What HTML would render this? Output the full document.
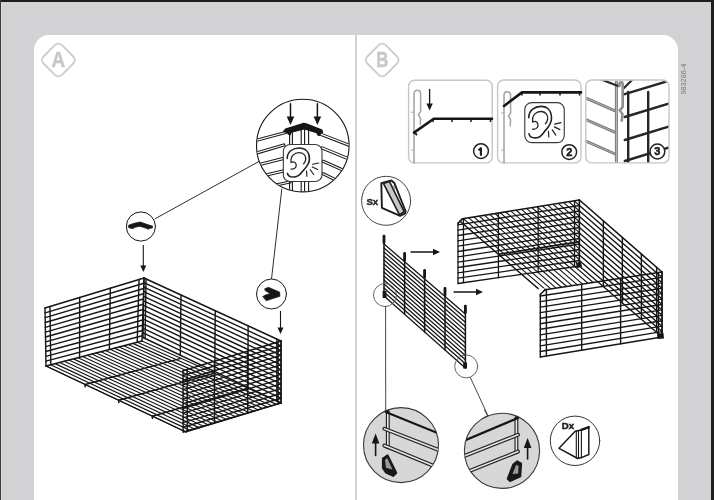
<!DOCTYPE html>
<html><head><meta charset="utf-8"><style>
html,body{margin:0;padding:0;}
body{width:714px;height:500px;position:relative;overflow:hidden;background:#d2d2d4;font-family:"Liberation Sans",sans-serif;}
.bt{position:absolute;left:0;top:0;width:714px;height:1.7px;background:#1e1e1e;}
.bl{position:absolute;left:0;top:0;width:1px;height:500px;background:#3a3a3a;}
.bl2{position:absolute;left:1px;top:2px;width:1px;height:498px;background:#dcdcdc;}
.br{position:absolute;right:0;top:0;width:3px;height:500px;background:#1e1e1e;}
.panel{position:absolute;left:33.6px;top:35.4px;width:644.6px;height:480px;background:#fff;border-radius:15px 15px 0 0;}
.div{position:absolute;left:354.6px;top:35px;width:2px;height:465px;background:#d2d2d2;}
svg{position:absolute;left:0;top:0;filter:grayscale(1) blur(0.35px);}
text{opacity:0.995;}
</style></head><body>
<div class="bt"></div><div class="bl"></div><div class="bl2"></div><div class="br"></div>
<div class="panel"></div>
<div class="div"></div>
<svg width="714" height="500" viewBox="0 0 714 500" stroke-linecap="round">
<defs><clipPath id="cA"><circle cx="302.8" cy="145.6" r="46"/></clipPath>
<clipPath id="cR"><polygon points="458,219.5 579.4,200 579.4,266 597.3,282.6 540.3,290.5"/></clipPath>
<clipPath id="cB3"><rect x="586.5" y="80.8" width="81.8" height="81.4" rx="5.5"/></clipPath>
<clipPath id="cC1"><circle cx="401" cy="445.1" r="37.5"/></clipPath>
<clipPath id="cC2"><circle cx="502" cy="450.8" r="37.6"/></clipPath></defs>
<line x1="46" y1="366" x2="186" y2="432" stroke="#161616" stroke-width="1.15"/>
<line x1="50.57" y1="364.81" x2="190.52" y2="430.62" stroke="#161616" stroke-width="1.15"/>
<line x1="55.14" y1="363.62" x2="195.05" y2="429.24" stroke="#161616" stroke-width="1.15"/>
<line x1="59.71" y1="362.43" x2="199.57" y2="427.86" stroke="#161616" stroke-width="1.15"/>
<line x1="64.29" y1="361.24" x2="204.1" y2="426.48" stroke="#161616" stroke-width="1.15"/>
<line x1="68.86" y1="360.05" x2="208.62" y2="425.1" stroke="#161616" stroke-width="1.15"/>
<line x1="73.43" y1="358.86" x2="213.14" y2="423.71" stroke="#161616" stroke-width="1.15"/>
<line x1="78" y1="357.67" x2="217.67" y2="422.33" stroke="#161616" stroke-width="1.15"/>
<line x1="82.57" y1="356.48" x2="222.19" y2="420.95" stroke="#161616" stroke-width="1.15"/>
<line x1="87.14" y1="355.29" x2="226.71" y2="419.57" stroke="#161616" stroke-width="1.15"/>
<line x1="91.71" y1="354.1" x2="231.24" y2="418.19" stroke="#161616" stroke-width="1.15"/>
<line x1="96.29" y1="352.9" x2="235.76" y2="416.81" stroke="#161616" stroke-width="1.15"/>
<line x1="100.86" y1="351.71" x2="240.29" y2="415.43" stroke="#161616" stroke-width="1.15"/>
<line x1="105.43" y1="350.52" x2="244.81" y2="414.05" stroke="#161616" stroke-width="1.15"/>
<line x1="110" y1="349.33" x2="249.33" y2="412.67" stroke="#161616" stroke-width="1.15"/>
<line x1="114.57" y1="348.14" x2="253.86" y2="411.29" stroke="#161616" stroke-width="1.15"/>
<line x1="119.14" y1="346.95" x2="258.38" y2="409.9" stroke="#161616" stroke-width="1.15"/>
<line x1="123.71" y1="345.76" x2="262.9" y2="408.52" stroke="#161616" stroke-width="1.15"/>
<line x1="128.29" y1="344.57" x2="267.43" y2="407.14" stroke="#161616" stroke-width="1.15"/>
<line x1="132.86" y1="343.38" x2="271.95" y2="405.76" stroke="#161616" stroke-width="1.15"/>
<line x1="137.43" y1="342.19" x2="276.48" y2="404.38" stroke="#161616" stroke-width="1.15"/>
<line x1="142" y1="341" x2="281" y2="403" stroke="#161616" stroke-width="1.15"/>
<line x1="46" y1="366" x2="186" y2="432" stroke="#161616" stroke-width="1.3"/>
<line x1="186" y1="432" x2="281" y2="403" stroke="#161616" stroke-width="1.3"/>
<line x1="85.2" y1="384.48" x2="180.92" y2="358.36" stroke="#161616" stroke-width="1.5"/>
<line x1="85.2" y1="384.48" x2="85.2" y2="386.68" stroke="#161616" stroke-width="1.6"/>
<line x1="118.8" y1="400.32" x2="214.28" y2="373.24" stroke="#161616" stroke-width="1.5"/>
<line x1="118.8" y1="400.32" x2="118.8" y2="402.52" stroke="#161616" stroke-width="1.6"/>
<line x1="152.4" y1="416.16" x2="247.64" y2="388.12" stroke="#161616" stroke-width="1.5"/>
<line x1="152.4" y1="416.16" x2="152.4" y2="418.36" stroke="#161616" stroke-width="1.6"/>
<line x1="45" y1="308" x2="144" y2="278" stroke="#161616" stroke-width="1.6"/>
<line x1="45.08" y1="312.83" x2="143.83" y2="283.25" stroke="#161616" stroke-width="1.4"/>
<line x1="45.17" y1="317.67" x2="143.67" y2="288.5" stroke="#161616" stroke-width="1.4"/>
<line x1="45.25" y1="322.5" x2="143.5" y2="293.75" stroke="#161616" stroke-width="1.4"/>
<line x1="45.33" y1="327.33" x2="143.33" y2="299" stroke="#161616" stroke-width="1.4"/>
<line x1="45.42" y1="332.17" x2="143.17" y2="304.25" stroke="#161616" stroke-width="1.4"/>
<line x1="45.5" y1="337" x2="143" y2="309.5" stroke="#161616" stroke-width="1.4"/>
<line x1="45.58" y1="341.83" x2="142.83" y2="314.75" stroke="#161616" stroke-width="1.4"/>
<line x1="45.67" y1="346.67" x2="142.67" y2="320" stroke="#161616" stroke-width="1.4"/>
<line x1="45.75" y1="351.5" x2="142.5" y2="325.25" stroke="#161616" stroke-width="1.4"/>
<line x1="45.83" y1="356.33" x2="142.33" y2="330.5" stroke="#161616" stroke-width="1.4"/>
<line x1="45.92" y1="361.17" x2="142.17" y2="335.75" stroke="#161616" stroke-width="1.4"/>
<line x1="46" y1="366" x2="142" y2="341" stroke="#161616" stroke-width="1.4"/>
<line x1="45" y1="308" x2="46" y2="366" stroke="#161616" stroke-width="1.4"/>
<line x1="49.95" y1="306.5" x2="50.8" y2="364.75" stroke="#161616" stroke-width="1.4"/>
<line x1="79.65" y1="297.5" x2="79.6" y2="357.25" stroke="#161616" stroke-width="1.4"/>
<line x1="110.34" y1="288.2" x2="109.36" y2="349.5" stroke="#161616" stroke-width="1.4"/>
<line x1="139.05" y1="279.5" x2="137.2" y2="342.25" stroke="#161616" stroke-width="1.4"/>
<line x1="144" y1="278" x2="142" y2="341" stroke="#161616" stroke-width="1.4"/>
<line x1="144" y1="278" x2="281" y2="341" stroke="#161616" stroke-width="1.6"/>
<line x1="143.92" y1="282.58" x2="281" y2="345.77" stroke="#161616" stroke-width="1.4"/>
<line x1="143.85" y1="287.15" x2="281" y2="350.54" stroke="#161616" stroke-width="1.4"/>
<line x1="143.77" y1="291.73" x2="281" y2="355.31" stroke="#161616" stroke-width="1.4"/>
<line x1="143.69" y1="296.31" x2="281" y2="360.08" stroke="#161616" stroke-width="1.4"/>
<line x1="143.62" y1="300.88" x2="281" y2="364.85" stroke="#161616" stroke-width="1.4"/>
<line x1="143.54" y1="305.46" x2="281" y2="369.62" stroke="#161616" stroke-width="1.4"/>
<line x1="143.46" y1="310.04" x2="281" y2="374.38" stroke="#161616" stroke-width="1.4"/>
<line x1="143.38" y1="314.62" x2="281" y2="379.15" stroke="#161616" stroke-width="1.4"/>
<line x1="143.31" y1="319.19" x2="281" y2="383.92" stroke="#161616" stroke-width="1.4"/>
<line x1="143.23" y1="323.77" x2="281" y2="388.69" stroke="#161616" stroke-width="1.4"/>
<line x1="143.15" y1="328.35" x2="281" y2="393.46" stroke="#161616" stroke-width="1.4"/>
<line x1="143.08" y1="332.92" x2="281" y2="398.23" stroke="#161616" stroke-width="1.4"/>
<line x1="143" y1="337.5" x2="281" y2="403" stroke="#161616" stroke-width="1.4"/>
<line x1="144" y1="278" x2="143" y2="337.5" stroke="#161616" stroke-width="1.4"/>
<line x1="146.06" y1="278.94" x2="145.07" y2="338.48" stroke="#161616" stroke-width="1.4"/>
<line x1="180.99" y1="295.01" x2="180.26" y2="355.19" stroke="#161616" stroke-width="1.4"/>
<line x1="215.24" y1="310.76" x2="214.76" y2="371.56" stroke="#161616" stroke-width="1.4"/>
<line x1="248.12" y1="325.88" x2="247.88" y2="387.28" stroke="#161616" stroke-width="1.4"/>
<line x1="276.89" y1="339.11" x2="276.86" y2="401.03" stroke="#161616" stroke-width="1.4"/>
<line x1="281" y1="341" x2="281" y2="403" stroke="#161616" stroke-width="1.4"/>
<line x1="183" y1="370.8" x2="281" y2="341" stroke="#161616" stroke-width="1.6"/>
<line x1="183.02" y1="375.51" x2="281" y2="345.77" stroke="#161616" stroke-width="1.4"/>
<line x1="183.03" y1="380.22" x2="281" y2="350.54" stroke="#161616" stroke-width="1.4"/>
<line x1="183.05" y1="384.92" x2="281" y2="355.31" stroke="#161616" stroke-width="1.4"/>
<line x1="183.06" y1="389.63" x2="281" y2="360.08" stroke="#161616" stroke-width="1.4"/>
<line x1="183.08" y1="394.34" x2="281" y2="364.85" stroke="#161616" stroke-width="1.4"/>
<line x1="183.09" y1="399.05" x2="281" y2="369.62" stroke="#161616" stroke-width="1.4"/>
<line x1="183.11" y1="403.75" x2="281" y2="374.38" stroke="#161616" stroke-width="1.4"/>
<line x1="183.12" y1="408.46" x2="281" y2="379.15" stroke="#161616" stroke-width="1.4"/>
<line x1="183.14" y1="413.17" x2="281" y2="383.92" stroke="#161616" stroke-width="1.4"/>
<line x1="183.15" y1="417.88" x2="281" y2="388.69" stroke="#161616" stroke-width="1.4"/>
<line x1="183.17" y1="422.58" x2="281" y2="393.46" stroke="#161616" stroke-width="1.4"/>
<line x1="183.18" y1="427.29" x2="281" y2="398.23" stroke="#161616" stroke-width="1.4"/>
<line x1="183.2" y1="432" x2="281" y2="403" stroke="#161616" stroke-width="1.4"/>
<line x1="183" y1="370.8" x2="183.2" y2="432" stroke="#161616" stroke-width="1.4"/>
<line x1="187.12" y1="369.55" x2="187.31" y2="430.78" stroke="#161616" stroke-width="1.4"/>
<line x1="214.36" y1="361.26" x2="214.5" y2="422.72" stroke="#161616" stroke-width="1.4"/>
<line x1="247.68" y1="351.13" x2="247.75" y2="412.86" stroke="#161616" stroke-width="1.4"/>
<line x1="278.06" y1="341.89" x2="278.07" y2="403.87" stroke="#161616" stroke-width="1.4"/>
<line x1="281" y1="341" x2="281" y2="403" stroke="#161616" stroke-width="1.4"/>
<line x1="155" y1="218.8" x2="258.7" y2="161.6" stroke="#161616" stroke-width="0.9"/>
<line x1="281.8" y1="189" x2="271.5" y2="279" stroke="#161616" stroke-width="0.9"/>
<circle cx="302.8" cy="145.6" r="46.3" fill="#fff" stroke="#161616" stroke-width="1.1"/>
<g clip-path="url(#cA)">
<line x1="250" y1="142" x2="285.7" y2="132.5" stroke="#1a1a1a" stroke-width="3.2"/>
<line x1="250" y1="142" x2="285.7" y2="132.5" stroke="#fff" stroke-width="1.2000000000000002"/>
<line x1="250" y1="155" x2="283.8" y2="145" stroke="#1a1a1a" stroke-width="3.2"/>
<line x1="250" y1="155" x2="283.8" y2="145" stroke="#fff" stroke-width="1.2000000000000002"/>
<line x1="252" y1="166.4" x2="283.8" y2="158.4" stroke="#1a1a1a" stroke-width="3.2"/>
<line x1="252" y1="166.4" x2="283.8" y2="158.4" stroke="#fff" stroke-width="1.2000000000000002"/>
<line x1="255" y1="177.5" x2="283.8" y2="170.9" stroke="#1a1a1a" stroke-width="3.2"/>
<line x1="255" y1="177.5" x2="283.8" y2="170.9" stroke="#fff" stroke-width="1.2000000000000002"/>
<line x1="262" y1="188" x2="290" y2="182" stroke="#1a1a1a" stroke-width="3.2"/>
<line x1="262" y1="188" x2="290" y2="182" stroke="#fff" stroke-width="1.2000000000000002"/>
<line x1="321.2" y1="134.4" x2="355" y2="147.5" stroke="#1a1a1a" stroke-width="3.2"/>
<line x1="321.2" y1="134.4" x2="355" y2="147.5" stroke="#fff" stroke-width="1.2000000000000002"/>
<line x1="322.2" y1="147.9" x2="355" y2="161.5" stroke="#1a1a1a" stroke-width="3.2"/>
<line x1="322.2" y1="147.9" x2="355" y2="161.5" stroke="#fff" stroke-width="1.2000000000000002"/>
<line x1="323.2" y1="161.3" x2="355" y2="175.5" stroke="#1a1a1a" stroke-width="3.2"/>
<line x1="323.2" y1="161.3" x2="355" y2="175.5" stroke="#fff" stroke-width="1.2000000000000002"/>
<line x1="323.2" y1="173.8" x2="352" y2="188" stroke="#1a1a1a" stroke-width="3.2"/>
<line x1="323.2" y1="173.8" x2="352" y2="188" stroke="#fff" stroke-width="1.2000000000000002"/>
<line x1="289.6" y1="128" x2="289.6" y2="195" stroke="#161616" stroke-width="1.1"/>
<line x1="292.4" y1="128" x2="292.4" y2="195" stroke="#161616" stroke-width="1.1"/>
<line x1="301.2" y1="128" x2="301.2" y2="195" stroke="#161616" stroke-width="1.1"/>
<line x1="304.6" y1="128" x2="304.6" y2="195" stroke="#161616" stroke-width="1.1"/>
<line x1="308.6" y1="128" x2="308.6" y2="195" stroke="#161616" stroke-width="1.1"/>
</g>
<g transform="translate(281.5 141) scale(0.092 0.087)"><rect x="20" y="40" width="420" height="425" rx="75" fill="#fff" stroke="#3a3a3a" stroke-width="12"/>
<g fill="none" stroke="#222" stroke-linecap="round">
<path d="M62 200 C62 118 130 80 192 80 C262 80 304 128 304 205 C304 262 272 300 242 332 C212 364 200 408 142 414 C98 418 70 398 65 372" stroke-width="17"/>
<path d="M104 248 C94 172 140 132 196 134 C246 136 270 176 263 218 C259 240 248 254 240 264" stroke-width="14"/>
<path d="M110 242 C140 232 164 254 160 287 C156 312 130 326 102 322" stroke-width="14"/>
<path d="M338 268 L405 253 M335 298 L393 327 M312 330 L350 385 M272 345 L276 405" stroke-width="13"/>
</g></g>
<polygon points="282.6,131.6 285.3,128.6 303.5,122.8 306.5,123.2 322.3,129.4 323.4,132.4 320.7,133.6 319.9,136.2 317.4,135.6 316.4,133.2 304.5,129.4 291.6,132.8 290.6,135.2 288.1,134.8 287.3,133.6" fill="#161616"/>
<line x1="290.5" y1="103.7" x2="290.5" y2="119.9" stroke="#161616" stroke-width="1.5"/>
<polygon points="290.5,125 286.7,116.5 294.3,116.5" fill="#161616"/>
<line x1="317.4" y1="103.7" x2="317.4" y2="119.9" stroke="#161616" stroke-width="1.5"/>
<polygon points="317.4,125 313.6,116.5 321.2,116.5" fill="#161616"/>
<circle cx="140.9" cy="226.5" r="14.6" fill="#fff" stroke="#161616" stroke-width="1.0"/>
<polygon points="128.6,225.3 133.4,223.5 140,222 146,224.1 152.6,226.2 152.3,228 149,228.3 148.4,229.5 147.2,228.6 140,226.2 134,227.4 133.4,228.6 129.8,228 128.6,227.4" fill="#161616" stroke="#161616" stroke-width="0.8" stroke-linejoin="round"/>
<line x1="143.3" y1="245.5" x2="143.3" y2="268.1" stroke="#161616" stroke-width="1.1"/>
<polygon points="143.3,272 140.3,265.5 146.3,265.5" fill="#161616"/>
<circle cx="271.5" cy="294" r="15" fill="#fff" stroke="#161616" stroke-width="1.0"/>
<polygon points="264.9,288.6 268.5,287.3 279.7,292.1 280,296.3 266.2,300.8 262.7,296.6 265.3,295 270.1,293.4 265.3,290.8" fill="#161616" stroke="#161616" stroke-width="0.6" stroke-linejoin="round"/>
<line x1="280.5" y1="311.4" x2="280.5" y2="330.1" stroke="#161616" stroke-width="1.1"/>
<polygon points="280.5,334 277.5,327.5 283.5,327.5" fill="#161616"/>
<line x1="384" y1="244" x2="465.4" y2="314" stroke="#161616" stroke-width="1.3"/>
<line x1="384" y1="248" x2="465.4" y2="318.15" stroke="#161616" stroke-width="1.3"/>
<line x1="384" y1="252" x2="465.4" y2="322.31" stroke="#161616" stroke-width="1.3"/>
<line x1="384" y1="256" x2="465.4" y2="326.46" stroke="#161616" stroke-width="1.3"/>
<line x1="384" y1="260" x2="465.4" y2="330.62" stroke="#161616" stroke-width="1.3"/>
<line x1="384" y1="264" x2="465.4" y2="334.77" stroke="#161616" stroke-width="1.3"/>
<line x1="384" y1="268" x2="465.4" y2="338.92" stroke="#161616" stroke-width="1.3"/>
<line x1="384" y1="272" x2="465.4" y2="343.08" stroke="#161616" stroke-width="1.3"/>
<line x1="384" y1="276" x2="465.4" y2="347.23" stroke="#161616" stroke-width="1.3"/>
<line x1="384" y1="280" x2="465.4" y2="351.38" stroke="#161616" stroke-width="1.3"/>
<line x1="384" y1="284" x2="465.4" y2="355.54" stroke="#161616" stroke-width="1.3"/>
<line x1="384" y1="288" x2="465.4" y2="359.69" stroke="#161616" stroke-width="1.3"/>
<line x1="384" y1="292" x2="465.4" y2="363.85" stroke="#161616" stroke-width="1.3"/>
<line x1="384" y1="296" x2="465.4" y2="368" stroke="#161616" stroke-width="1.3"/>
<line x1="384" y1="235.6" x2="384" y2="296" stroke="#161616" stroke-width="1.5"/>
<line x1="384" y1="236.1" x2="384" y2="242.6" stroke="#161616" stroke-width="2.8"/>
<line x1="404.6" y1="253" x2="404.6" y2="314" stroke="#161616" stroke-width="1.5"/>
<line x1="404.6" y1="253.5" x2="404.6" y2="260" stroke="#161616" stroke-width="2.8"/>
<line x1="424.6" y1="270" x2="424.6" y2="332" stroke="#161616" stroke-width="1.5"/>
<line x1="424.6" y1="270.5" x2="424.6" y2="277" stroke="#161616" stroke-width="2.8"/>
<line x1="445" y1="288" x2="445" y2="350" stroke="#161616" stroke-width="1.5"/>
<line x1="445" y1="288.5" x2="445" y2="295" stroke="#161616" stroke-width="2.8"/>
<line x1="465.4" y1="305.6" x2="465.4" y2="368" stroke="#161616" stroke-width="1.5"/>
<line x1="465.4" y1="306.1" x2="465.4" y2="312.6" stroke="#161616" stroke-width="2.8"/>
<line x1="411" y1="252" x2="435.8" y2="252" stroke="#161616" stroke-width="1.4"/>
<polygon points="440,252 433,255.2 433,248.8" fill="#161616"/>
<line x1="454" y1="292" x2="478.8" y2="292" stroke="#161616" stroke-width="1.4"/>
<polygon points="483,292 476,295.2 476,288.8" fill="#161616"/>
<g clip-path="url(#cR)">
<line x1="449.77" y1="212.4" x2="540.3" y2="290.5" stroke="#161616" stroke-width="1.1"/>
<line x1="455.05" y1="211.55" x2="545.59" y2="289.7" stroke="#161616" stroke-width="1.1"/>
<line x1="460.32" y1="210.7" x2="550.88" y2="288.89" stroke="#161616" stroke-width="1.1"/>
<line x1="465.6" y1="209.84" x2="556.17" y2="288.09" stroke="#161616" stroke-width="1.1"/>
<line x1="470.88" y1="208.99" x2="561.47" y2="287.28" stroke="#161616" stroke-width="1.1"/>
<line x1="476.15" y1="208.14" x2="566.76" y2="286.48" stroke="#161616" stroke-width="1.1"/>
<line x1="481.43" y1="207.29" x2="572.05" y2="285.67" stroke="#161616" stroke-width="1.1"/>
<line x1="486.71" y1="206.43" x2="577.34" y2="284.87" stroke="#161616" stroke-width="1.1"/>
<line x1="491.99" y1="205.58" x2="582.63" y2="284.07" stroke="#161616" stroke-width="1.1"/>
<line x1="497.26" y1="204.73" x2="587.92" y2="283.26" stroke="#161616" stroke-width="1.1"/>
<line x1="502.54" y1="203.88" x2="593.21" y2="282.46" stroke="#161616" stroke-width="1.1"/>
<line x1="507.82" y1="203.03" x2="598.5" y2="281.65" stroke="#161616" stroke-width="1.1"/>
<line x1="513.09" y1="202.17" x2="603.8" y2="280.85" stroke="#161616" stroke-width="1.1"/>
<line x1="518.37" y1="201.32" x2="609.09" y2="280.04" stroke="#161616" stroke-width="1.1"/>
<line x1="523.65" y1="200.47" x2="614.38" y2="279.24" stroke="#161616" stroke-width="1.1"/>
<line x1="528.92" y1="199.62" x2="619.67" y2="278.43" stroke="#161616" stroke-width="1.1"/>
<line x1="534.2" y1="198.77" x2="624.96" y2="277.63" stroke="#161616" stroke-width="1.1"/>
<line x1="539.48" y1="197.91" x2="630.25" y2="276.83" stroke="#161616" stroke-width="1.1"/>
<line x1="544.76" y1="197.06" x2="635.54" y2="276.02" stroke="#161616" stroke-width="1.1"/>
<line x1="550.03" y1="196.21" x2="640.83" y2="275.22" stroke="#161616" stroke-width="1.1"/>
<line x1="555.31" y1="195.36" x2="646.13" y2="274.41" stroke="#161616" stroke-width="1.1"/>
<line x1="560.59" y1="194.5" x2="651.42" y2="273.61" stroke="#161616" stroke-width="1.1"/>
<line x1="565.86" y1="193.65" x2="656.71" y2="272.8" stroke="#161616" stroke-width="1.1"/>
<line x1="571.14" y1="192.8" x2="662" y2="272" stroke="#161616" stroke-width="1.1"/>
<line x1="498.33" y1="254.29" x2="619.87" y2="235.28" stroke="#161616" stroke-width="1.7"/>
</g>
<line x1="458" y1="219.5" x2="540.3" y2="290.5" stroke="#161616" stroke-width="1.3"/>
<polygon points="576,263 581,262 582,267 577,268" fill="#161616"/>
<line x1="458" y1="219.5" x2="579.4" y2="200" stroke="#161616" stroke-width="1.6"/>
<line x1="458" y1="224.83" x2="579.4" y2="205.5" stroke="#161616" stroke-width="1.3"/>
<line x1="458" y1="230.17" x2="579.4" y2="211" stroke="#161616" stroke-width="1.3"/>
<line x1="458" y1="235.5" x2="579.4" y2="216.5" stroke="#161616" stroke-width="1.3"/>
<line x1="458" y1="240.83" x2="579.4" y2="222" stroke="#161616" stroke-width="1.3"/>
<line x1="458" y1="246.17" x2="579.4" y2="227.5" stroke="#161616" stroke-width="1.3"/>
<line x1="458" y1="251.5" x2="579.4" y2="233" stroke="#161616" stroke-width="1.3"/>
<line x1="458" y1="256.83" x2="579.4" y2="238.5" stroke="#161616" stroke-width="1.3"/>
<line x1="458" y1="262.17" x2="579.4" y2="244" stroke="#161616" stroke-width="1.3"/>
<line x1="458" y1="267.5" x2="579.4" y2="249.5" stroke="#161616" stroke-width="1.3"/>
<line x1="458" y1="272.83" x2="579.4" y2="255" stroke="#161616" stroke-width="1.3"/>
<line x1="458" y1="278.17" x2="579.4" y2="260.5" stroke="#161616" stroke-width="1.3"/>
<line x1="458" y1="283.5" x2="579.4" y2="266" stroke="#161616" stroke-width="1.3"/>
<line x1="458" y1="219.5" x2="458" y2="283.5" stroke="#161616" stroke-width="1.3"/>
<line x1="463.46" y1="218.62" x2="463.46" y2="282.71" stroke="#161616" stroke-width="1.3"/>
<line x1="498.43" y1="213.01" x2="498.43" y2="277.67" stroke="#161616" stroke-width="1.3"/>
<line x1="538.12" y1="206.63" x2="538.12" y2="271.95" stroke="#161616" stroke-width="1.3"/>
<line x1="574.54" y1="200.78" x2="574.54" y2="266.7" stroke="#161616" stroke-width="1.3"/>
<line x1="579.4" y1="200" x2="579.4" y2="266" stroke="#161616" stroke-width="1.3"/>
<line x1="579.4" y1="200" x2="662" y2="272" stroke="#161616" stroke-width="1.6"/>
<line x1="579.4" y1="205.5" x2="662" y2="277.42" stroke="#161616" stroke-width="1.4"/>
<line x1="579.4" y1="211" x2="662" y2="282.83" stroke="#161616" stroke-width="1.4"/>
<line x1="579.4" y1="216.5" x2="662" y2="288.25" stroke="#161616" stroke-width="1.4"/>
<line x1="579.4" y1="222" x2="662" y2="293.67" stroke="#161616" stroke-width="1.4"/>
<line x1="579.4" y1="227.5" x2="662" y2="299.08" stroke="#161616" stroke-width="1.4"/>
<line x1="579.4" y1="233" x2="662" y2="304.5" stroke="#161616" stroke-width="1.4"/>
<line x1="579.4" y1="238.5" x2="662" y2="309.92" stroke="#161616" stroke-width="1.4"/>
<line x1="579.4" y1="244" x2="662" y2="315.33" stroke="#161616" stroke-width="1.4"/>
<line x1="579.4" y1="249.5" x2="662" y2="320.75" stroke="#161616" stroke-width="1.4"/>
<line x1="579.4" y1="255" x2="662" y2="326.17" stroke="#161616" stroke-width="1.4"/>
<line x1="579.4" y1="260.5" x2="662" y2="331.58" stroke="#161616" stroke-width="1.4"/>
<line x1="579.4" y1="266" x2="662" y2="337" stroke="#161616" stroke-width="1.4"/>
<line x1="579.4" y1="200" x2="579.4" y2="266" stroke="#161616" stroke-width="1.4"/>
<line x1="603.35" y1="220.88" x2="603.35" y2="286.59" stroke="#161616" stroke-width="1.4"/>
<line x1="622.35" y1="237.44" x2="622.35" y2="302.92" stroke="#161616" stroke-width="1.4"/>
<line x1="641.35" y1="254" x2="641.35" y2="319.25" stroke="#161616" stroke-width="1.4"/>
<line x1="656.63" y1="267.32" x2="656.63" y2="332.38" stroke="#161616" stroke-width="1.4"/>
<line x1="662" y1="272" x2="662" y2="337" stroke="#161616" stroke-width="1.4"/>
<polygon points="657,333.5 663.5,333 664,338.5 657.5,339" fill="#161616"/>
<line x1="540.3" y1="290.5" x2="662" y2="272" stroke="#161616" stroke-width="1.6"/>
<line x1="540.3" y1="296.04" x2="662" y2="277.42" stroke="#161616" stroke-width="1.4"/>
<line x1="540.3" y1="301.58" x2="662" y2="282.83" stroke="#161616" stroke-width="1.4"/>
<line x1="540.3" y1="307.12" x2="662" y2="288.25" stroke="#161616" stroke-width="1.4"/>
<line x1="540.3" y1="312.67" x2="662" y2="293.67" stroke="#161616" stroke-width="1.4"/>
<line x1="540.3" y1="318.21" x2="662" y2="299.08" stroke="#161616" stroke-width="1.4"/>
<line x1="540.3" y1="323.75" x2="662" y2="304.5" stroke="#161616" stroke-width="1.4"/>
<line x1="540.3" y1="329.29" x2="662" y2="309.92" stroke="#161616" stroke-width="1.4"/>
<line x1="540.3" y1="334.83" x2="662" y2="315.33" stroke="#161616" stroke-width="1.4"/>
<line x1="540.3" y1="340.38" x2="662" y2="320.75" stroke="#161616" stroke-width="1.4"/>
<line x1="540.3" y1="345.92" x2="662" y2="326.17" stroke="#161616" stroke-width="1.4"/>
<line x1="540.3" y1="351.46" x2="662" y2="331.58" stroke="#161616" stroke-width="1.4"/>
<line x1="540.3" y1="357" x2="662" y2="337" stroke="#161616" stroke-width="1.4"/>
<line x1="540.3" y1="290.5" x2="540.3" y2="357" stroke="#161616" stroke-width="1.4"/>
<line x1="546.38" y1="289.57" x2="546.38" y2="356" stroke="#161616" stroke-width="1.4"/>
<line x1="581.68" y1="284.21" x2="581.68" y2="350.2" stroke="#161616" stroke-width="1.4"/>
<line x1="620.62" y1="278.29" x2="620.62" y2="343.8" stroke="#161616" stroke-width="1.4"/>
<line x1="658.35" y1="272.56" x2="658.35" y2="337.6" stroke="#161616" stroke-width="1.4"/>
<line x1="662" y1="272" x2="662" y2="337" stroke="#161616" stroke-width="1.4"/>
<polygon points="538.4,288.4 545.2,288.4 538.4,295.2" fill="#fff"/>
<line x1="540.3" y1="294.6" x2="545.4" y2="289.6" stroke="#161616" stroke-width="1.4"/>
<polygon points="456.2,217.6 462.4,217.6 456.2,223.8" fill="#fff"/>
<line x1="458" y1="223.4" x2="462.8" y2="218.7" stroke="#161616" stroke-width="1.4"/>
<rect x="408.6" y="80.2" width="83.6" height="82.7" rx="6" ry="6" fill="#fff" stroke="#c6c6c6" stroke-width="1.4"/>
<rect x="497.6" y="80" width="83.4" height="82.9" rx="6" ry="6" fill="#fff" stroke="#c6c6c6" stroke-width="1.4"/>
<rect x="585.8" y="80" width="83.2" height="82.9" rx="6" ry="6" fill="#fff" stroke="#c6c6c6" stroke-width="1.4"/>
<path d="M414 163 L414 93.6 A3.3 3.3 0 0 1 420.6 93.6 L420.6 111.6 L418.4 114.4 L420.6 118.8 L420.2 124.2" fill="none" stroke="#a3a3a3" stroke-width="1.5"/>
<line x1="411.6" y1="112.2" x2="414" y2="112.2" stroke="#a3a3a3" stroke-width="0.9"/>
<line x1="411.6" y1="150" x2="414" y2="150" stroke="#a3a3a3" stroke-width="0.9"/>
<line x1="429.6" y1="89.4" x2="429.6" y2="106.2" stroke="#161616" stroke-width="1.3"/>
<polygon points="429.6,110.4 426.4,103.4 432.8,103.4" fill="#161616"/>
<polyline points="414,132.6 433.8,118.8 492,118.8" fill="none" stroke="#161616" stroke-width="2.6" stroke-linejoin="round"/>
<line x1="433" y1="119" x2="433" y2="121.5" stroke="#161616" stroke-width="1.5"/>
<line x1="452" y1="119" x2="452" y2="121.5" stroke="#161616" stroke-width="1.5"/>
<line x1="471" y1="119" x2="471" y2="121.5" stroke="#161616" stroke-width="1.5"/>
<line x1="490.5" y1="119" x2="490.5" y2="121.5" stroke="#161616" stroke-width="1.5"/>
<line x1="414.5" y1="132.5" x2="416.5" y2="134.5" stroke="#161616" stroke-width="1.8"/>
<circle cx="481" cy="151.1" r="7.4" fill="#fff" stroke="#222" stroke-width="1.5"/>
<polyline points="478.5,150.2 480.9,148.2 480.9,155.7" fill="none" stroke="#1a1a1a" stroke-width="2.1" stroke-linecap="butt" stroke-linejoin="round"/>
<path d="M504 163 L504 95 A3.3 3.3 0 0 1 510.6 95 L510.6 113 L508.4 116 L510.6 120 L510.2 126" fill="none" stroke="#a3a3a3" stroke-width="1.5"/>
<line x1="501.6" y1="113" x2="504" y2="113" stroke="#a3a3a3" stroke-width="0.9"/>
<line x1="501.6" y1="150" x2="504" y2="150" stroke="#a3a3a3" stroke-width="0.9"/>
<polyline points="504,106 522,92.4 581,92.4" fill="none" stroke="#161616" stroke-width="2.6" stroke-linejoin="round"/>
<line x1="522" y1="92.6" x2="522" y2="95" stroke="#161616" stroke-width="1.5"/>
<line x1="540" y1="92.6" x2="540" y2="95" stroke="#161616" stroke-width="1.5"/>
<line x1="560" y1="92.6" x2="560" y2="95" stroke="#161616" stroke-width="1.5"/>
<line x1="579.5" y1="92.6" x2="579.5" y2="95" stroke="#161616" stroke-width="1.5"/>
<g transform="translate(522.9 98.9) scale(0.094 0.094)"><rect x="20" y="40" width="420" height="425" rx="75" fill="#fff" stroke="#3a3a3a" stroke-width="12"/>
<g fill="none" stroke="#222" stroke-linecap="round">
<path d="M62 200 C62 118 130 80 192 80 C262 80 304 128 304 205 C304 262 272 300 242 332 C212 364 200 408 142 414 C98 418 70 398 65 372" stroke-width="17"/>
<path d="M104 248 C94 172 140 132 196 134 C246 136 270 176 263 218 C259 240 248 254 240 264" stroke-width="14"/>
<path d="M110 242 C140 232 164 254 160 287 C156 312 130 326 102 322" stroke-width="14"/>
<path d="M338 268 L405 253 M335 298 L393 327 M312 330 L350 385 M272 345 L276 405" stroke-width="13"/>
</g></g>
<circle cx="569.2" cy="152.1" r="7.4" fill="#fff" stroke="#222" stroke-width="1.5"/>
<text x="569.2" y="155.7" text-anchor="middle" font-family="Liberation Sans" font-weight="bold" font-size="11" fill="#1a1a1a" stroke="#1a1a1a" stroke-width="0.5">2</text>
<g clip-path="url(#cB3)">
<line x1="580" y1="95.4" x2="615.2" y2="110.8" stroke="#7a7a7a" stroke-width="3.0"/>
<line x1="580" y1="95.4" x2="615.2" y2="110.8" stroke="#b8b8b8" stroke-width="0.9"/>
<line x1="580" y1="117" x2="615.2" y2="132.4" stroke="#7a7a7a" stroke-width="3.0"/>
<line x1="580" y1="117" x2="615.2" y2="132.4" stroke="#b8b8b8" stroke-width="0.9"/>
<line x1="580" y1="138.6" x2="615.2" y2="154" stroke="#7a7a7a" stroke-width="3.0"/>
<line x1="580" y1="138.6" x2="615.2" y2="154" stroke="#b8b8b8" stroke-width="0.9"/>
<line x1="580" y1="160.2" x2="615.2" y2="175.6" stroke="#7a7a7a" stroke-width="3.0"/>
<line x1="580" y1="160.2" x2="615.2" y2="175.6" stroke="#b8b8b8" stroke-width="0.9"/>
<line x1="616.4" y1="82" x2="616.4" y2="165" stroke="#7a7a7a" stroke-width="3.0"/>
<line x1="616.4" y1="82" x2="616.4" y2="165" stroke="#bdbdbd" stroke-width="1.0"/>
<line x1="600" y1="79" x2="618" y2="86" stroke="#2a2a2a" stroke-width="2.2"/>
<line x1="624" y1="88" x2="633" y2="79" stroke="#2a2a2a" stroke-width="2.2"/>
<path d="M619.5 86 L619.5 84 A1.6 1.6 0 0 1 622.7 84 L622.7 106.8 L619.8 110.4 L622.4 114 L621.8 120.6" fill="none" stroke="#8e8e8e" stroke-width="2.6"/>
<line x1="628.2" y1="92" x2="628.2" y2="165" stroke="#262626" stroke-width="2.4"/>
<line x1="648.2" y1="92" x2="648.2" y2="165" stroke="#262626" stroke-width="2.4"/>
<line x1="624.8" y1="94.2" x2="670" y2="80.4" stroke="#262626" stroke-width="2.4"/>
<line x1="624.8" y1="117" x2="670" y2="103.2" stroke="#262626" stroke-width="2.4"/>
<line x1="624.8" y1="140" x2="670" y2="126.2" stroke="#262626" stroke-width="2.4"/>
<line x1="624.8" y1="161" x2="670" y2="147.2" stroke="#262626" stroke-width="2.4"/>
</g>
<circle cx="657.4" cy="151.5" r="7.4" fill="#fff" stroke="#222" stroke-width="1.5"/>
<text x="657.4" y="155.1" text-anchor="middle" font-family="Liberation Sans" font-weight="bold" font-size="11" fill="#1a1a1a" stroke="#1a1a1a" stroke-width="0.5">3</text>
<circle cx="386.1" cy="200.8" r="24.5" fill="#fff" stroke="#444" stroke-width="1.0"/>
<text x="366.4" y="204.6" font-family="Liberation Sans" font-weight="bold" font-size="9.7" fill="#222" stroke="#222" stroke-width="0.4">Sx</text>
<polygon points="381.3,183.2 391.5,180.5 394.5,183.3 405.7,211.5 404.8,213.6 400.1,215.8 381.9,207.8" fill="#fff" stroke="#1e1e1e" stroke-width="1.9" stroke-linejoin="round"/>
<polygon points="383.4,183.4 389.5,181.6 404.3,211.8 399.4,214.6" fill="#c8c8c8" stroke="#1e1e1e" stroke-width="1.6" stroke-linejoin="round"/>
<ellipse cx="394.2" cy="187.6" rx="1.1" ry="1.6" fill="#fff" stroke="#333" stroke-width="0.7"/>
<circle cx="385" cy="295" r="11.5" fill="none" stroke="#555" stroke-width="0.9"/>
<circle cx="466.2" cy="366.4" r="11.5" fill="none" stroke="#555" stroke-width="0.9"/>
<line x1="385.6" y1="306.5" x2="385.7" y2="411.5" stroke="#333" stroke-width="0.9"/>
<line x1="470.4" y1="377.6" x2="487.8" y2="415.4" stroke="#333" stroke-width="0.9"/>
<polygon points="382.6,291 386.4,291 386.6,298 382.6,298" fill="#161616"/>
<polygon points="463.2,362.5 467,362.5 467,368.5 463.2,368.5" fill="#161616"/>
<circle cx="401" cy="445.1" r="37.5" fill="#d7d7d7" stroke="#3a3a3a" stroke-width="1.1"/>
<g clip-path="url(#cC1)">
<line x1="387.8" y1="411.8" x2="387.8" y2="447.2" stroke="#222" stroke-width="3.9"/>
<line x1="387.8" y1="413" x2="387.8" y2="447.2" stroke="#e8e8e8" stroke-width="1.6"/>
<line x1="385.7" y1="412" x2="440" y2="434" stroke="#161616" stroke-width="2.2"/>
<line x1="384.4" y1="428.8" x2="440" y2="450.5" stroke="#222" stroke-width="3.9"/>
<line x1="384.4" y1="428.8" x2="440" y2="450.5" stroke="#e4e4e4" stroke-width="1.6"/>
<line x1="384.4" y1="445.6" x2="440" y2="468.5" stroke="#222" stroke-width="3.9"/>
<line x1="384.4" y1="445.6" x2="440" y2="468.5" stroke="#e4e4e4" stroke-width="1.6"/>
</g>
<line x1="375.6" y1="455.4" x2="375.6" y2="439.6" stroke="#161616" stroke-width="1.6"/>
<polygon points="375.6,433.6 379.4,443.6 371.8,443.6" fill="#161616"/>
<polygon points="382.8,458.4 387.6,455.2 396.4,472.8 393.2,476 386,472.8 382.8,468" fill="#1a1a1a" stroke="#1a1a1a" stroke-width="1.8" stroke-linejoin="round"/>
<polygon points="385,460 387.2,458 392.5,469.5 386,467.8" fill="#9a9a9a"/>
<circle cx="502" cy="450.8" r="37.6" fill="#d7d7d7" stroke="#3a3a3a" stroke-width="1.1"/>
<g clip-path="url(#cC2)">
<line x1="516.4" y1="418" x2="516.4" y2="451.5" stroke="#222" stroke-width="3.9"/>
<line x1="516.4" y1="419" x2="516.4" y2="451.5" stroke="#e8e8e8" stroke-width="1.6"/>
<line x1="462" y1="441.6" x2="518" y2="418" stroke="#161616" stroke-width="2.2"/>
<line x1="462" y1="457" x2="518" y2="434.8" stroke="#222" stroke-width="3.9"/>
<line x1="462" y1="457" x2="518" y2="434.8" stroke="#e4e4e4" stroke-width="1.6"/>
<line x1="462" y1="474" x2="518" y2="451.6" stroke="#222" stroke-width="3.9"/>
<line x1="462" y1="474" x2="518" y2="451.6" stroke="#e4e4e4" stroke-width="1.6"/>
</g>
<line x1="527.6" y1="459" x2="527.6" y2="444" stroke="#161616" stroke-width="1.6"/>
<polygon points="527.6,438 531.4,448 523.8,448" fill="#161616"/>
<polygon points="507.6,478.8 513.2,464.4 517.2,461.2 521.2,463.6 520.4,476.4 510,481.2" fill="#1a1a1a" stroke="#1a1a1a" stroke-width="1.8" stroke-linejoin="round"/>
<polygon points="512.5,474 516.2,464.8 518.6,466 518.2,473.5" fill="#9a9a9a"/>
<line x1="487.6" y1="415.6" x2="484.4" y2="410" stroke="#333" stroke-width="0.9"/>
<circle cx="575" cy="440.8" r="24.7" fill="#fff" stroke="#333" stroke-width="1.0"/>
<text x="561.8" y="429.4" font-family="Liberation Sans" font-weight="bold" font-size="9.6" fill="#1a1a1a" stroke="#1a1a1a" stroke-width="0.5">Dx</text>
<polygon points="559,448.3 575.2,431.2 581.4,429.9 588.8,427.2 588.8,454.5 581.4,457.6 577.8,458.5" fill="#fff" stroke="#1a1a1a" stroke-width="1.5" stroke-linejoin="round"/>
<line x1="576.3" y1="431" x2="576.3" y2="458" stroke="#161616" stroke-width="1.1"/>
<line x1="578.5" y1="431" x2="578.5" y2="458" stroke="#161616" stroke-width="1.1"/>
<line x1="581.4" y1="431" x2="581.4" y2="458" stroke="#161616" stroke-width="1.1"/>
<line x1="581.4" y1="429.9" x2="588.8" y2="427.2" stroke="#161616" stroke-width="2.4"/>
<rect x="45.4" y="47" width="26.0" height="26.0" rx="5" ry="5" fill="none" stroke="#cdcdcd" stroke-width="1.9" transform="rotate(45 58.4 60)"/>
<text x="58.4" y="67.2" text-anchor="middle" font-family="Liberation Sans" font-weight="bold" font-size="22" fill="#c8c8c8" stroke="#c8c8c8" stroke-width="0.5" transform="translate(58.4 0) scale(0.86 1) translate(-58.4 0)">A</text>
<rect x="369.2" y="47" width="26.0" height="26.0" rx="5" ry="5" fill="none" stroke="#cdcdcd" stroke-width="1.9" transform="rotate(45 382.2 60)"/>
<text x="382.2" y="67.2" text-anchor="middle" font-family="Liberation Sans" font-weight="bold" font-size="22" fill="#c8c8c8" stroke="#c8c8c8" stroke-width="0.5" transform="translate(382.2 0) scale(0.76 1) translate(-382.2 0)">B</text>
<text x="0" y="0" font-family="Liberation Sans" font-size="7" fill="#7a7a7a" transform="translate(686.4 94.5) rotate(-90)" textLength="30.7" lengthAdjust="spacingAndGlyphs">983286-4</text>
</svg>
</body></html>
